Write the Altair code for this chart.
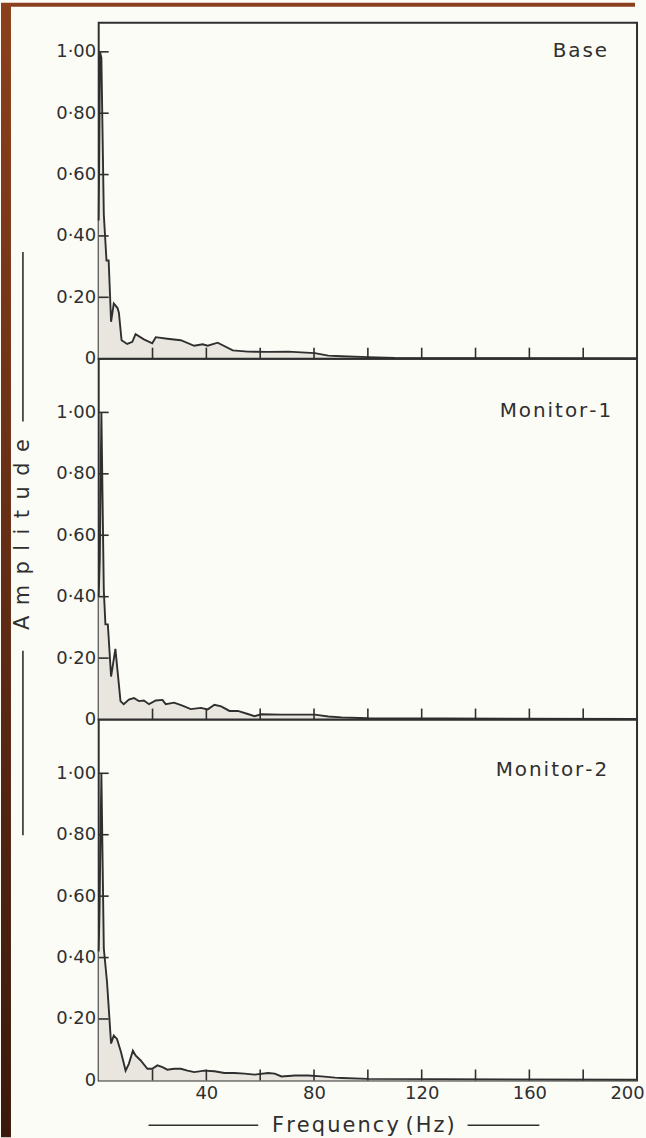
import altair as alt
import pandas as pd

# ---------------- data ----------------
panel_names = ["B\u200aa\u200as\u200ae",
               "M\u200ao\u200an\u200ai\u200at\u200ao\u200ar\u200a-\u200a1",
               "M\u200ao\u200an\u200ai\u200at\u200ao\u200ar\u200a-\u200a2"]

base_freq = [0, 0.5, 1.0, 1.9, 2.9, 3.7, 4.6, 5.6, 7.0, 7.5, 8.5, 10.6, 12.5, 13.7, 16.8,
             19.9, 21.2, 25.5, 30.5, 35.5, 38.6, 40.5, 44.2, 49.8, 55.4, 62.9, 70.4, 80.3,
             85.3, 90.3, 100, 110, 200]
base_amp = [0.45, 1.0, 0.98, 0.47, 0.32, 0.32, 0.12, 0.18, 0.165, 0.15, 0.06, 0.048, 0.055,
            0.08, 0.063, 0.05, 0.07, 0.065, 0.06, 0.042, 0.047, 0.042, 0.052, 0.027, 0.023,
            0.022, 0.023, 0.018, 0.01, 0.008, 0.005, 0.002, 0.001]

mon1_freq = [0, 0.4, 1.0, 1.9, 2.5, 3.4, 4.6, 6.2, 8.1, 9.3, 11.2, 13.1, 14.9, 16.8, 18.7,
             21.2, 23.7, 24.9, 28.0, 31.1, 34.2, 38.0, 40.5, 43.0, 45.5, 48.6, 51.7, 55.4,
             57.9, 60.4, 67.9, 80.3, 85.3, 90.3, 100, 200]
mon1_amp = [0.40, 0.52, 1.0, 0.42, 0.31, 0.31, 0.14, 0.23, 0.06, 0.05, 0.065, 0.07, 0.06,
            0.062, 0.05, 0.062, 0.064, 0.05, 0.055, 0.045, 0.034, 0.038, 0.033, 0.048, 0.043,
            0.028, 0.028, 0.018, 0.011, 0.017, 0.016, 0.016, 0.01, 0.007, 0.004, 0.002]

mon2_freq = [0, 0.3, 1.0, 1.9, 3.1, 4.6, 5.6, 6.8, 8.3, 10.0, 11.2, 12.7, 13.7, 15.6, 18.1,
             19.9, 21.8, 23.7, 25.5, 28.0, 30.5, 33.0, 35.5, 39.2, 43.0, 46.7, 50.4, 54.2,
             57.9, 62.9, 65.4, 67.9, 72.9, 77.8, 82.8, 87.8, 90.3, 100, 200]
mon2_amp = [0.42, 0.55, 1.0, 0.43, 0.32, 0.12, 0.146, 0.135, 0.092, 0.032, 0.054, 0.097,
            0.081, 0.065, 0.038, 0.038, 0.049, 0.043, 0.035, 0.038, 0.038, 0.032, 0.027,
            0.032, 0.03, 0.024, 0.024, 0.022, 0.019, 0.024, 0.022, 0.013, 0.016, 0.016,
            0.013, 0.009, 0.008, 0.005, 0.002]

x_tick_values = [20, 40, 60, 80, 100, 120, 140, 160, 180]
x_label_values = [40, 80, 120, 160, 200]
y_tick_values = [0.2, 0.4, 0.6, 0.8, 1.0]
y_label_values = [0, 0.2, 0.4, 0.6, 0.8, 1.0]

# ---------------- style ----------------
FONT = "DejaVu Sans"
INK = "#2f2f2f"
FILL = "#e8e6de"
BG = "#fcfcf7"
W = 540
heights = [337, 362, 362]
y_max = [1.095, 1.175, 1.175]
label_y = [28, 53, 51]
label_x = [510, 514, 510]

YLABEL = "datum.value == 0 ? '0' : replace(format(datum.value, '.2f'), '.', '\u00b7')"
one = alt.Data(values=[{"k": 1}])

HS = "\u200a"
x_title = HS.join(list("Frequency")) + " " + HS.join(list("(Hz)"))
y_title = "\u2002".join(list("Amplitude"))


def panel(i, freq, amp):
    H = heights[i]
    df = pd.DataFrame({"f": freq, "a": amp})
    xs = alt.Scale(domain=[0, 200], nice=False, zero=False)
    ys = alt.Scale(domain=[0, y_max[i]], nice=False)
    bottom = i == 2
    middle = i == 1

    if bottom:
        xaxis = alt.Axis(values=x_label_values, ticks=False, domain=False, grid=False,
                         labelPadding=4, labelFlush=False, labelFontSize=18, labelFont=FONT,
                         labelColor=INK, labelOverlap=False,
                         labelOffset={"condition": {"test": "datum.value == 200", "value": -10},
                                      "value": 0},
                         title=x_title,
                         titleFont=FONT, titleFontSize=21, titleFontWeight="normal",
                         titleColor=INK, titleX=265, titleY=45, titleBaseline="middle",
                         titleAlign="center")
    else:
        xaxis = None

    yaxis_kw = dict(values=y_label_values, ticks=False, domain=False, grid=False,
                    labelExpr=YLABEL, labelPadding=3, labelFlush=False, labelFontSize=18,
                    labelFont=FONT, labelColor=INK, labelOverlap=False)
    if middle:
        yaxis = alt.Axis(title=y_title,
                         titleFont=FONT, titleFontSize=21, titleFontWeight="normal",
                         titleColor=INK, titleAngle=270, titleX=-76, titleY=176,
                         titleBaseline="middle", titleAlign="center", **yaxis_kw)
    else:
        yaxis = alt.Axis(title=None, **yaxis_kw)

    base = alt.Chart(df)
    area = base.mark_area(color=FILL, interpolate="linear").encode(
        x=alt.X("f:Q", scale=xs, axis=xaxis),
        y=alt.Y("a:Q", scale=ys, axis=yaxis),
    )
    line = base.mark_line(color=INK, strokeWidth=1.9, interpolate="linear").encode(
        x=alt.X("f:Q", scale=xs, axis=xaxis),
        y=alt.Y("a:Q", scale=ys, axis=yaxis),
    )
    xt = alt.Chart(pd.DataFrame({"f": x_tick_values})).mark_rule(
        color=INK, strokeWidth=1.6).encode(
        x=alt.X("f:Q", scale=xs, axis=xaxis),
        y=alt.value(H), y2=alt.value(H - 11))
    yt = alt.Chart(pd.DataFrame({"a": y_tick_values})).mark_rule(
        color=INK, strokeWidth=1.6).encode(
        y=alt.Y("a:Q", scale=ys, axis=yaxis),
        x=alt.value(0), x2=alt.value(10))
    lab = alt.Chart(alt.Data(values=[{"name": panel_names[i]}])).mark_text(
        font=FONT, fontSize=20, color=INK, align="right", baseline="middle").encode(
        text="name:N", x=alt.value(label_x[i]), y=alt.value(label_y[i]))

    layers = [area, xt, yt, line, lab]

    if i == 0:
        grad = alt.LinearGradient(gradient="linear",
                                  stops=[alt.GradientStop(color="#8c401d", offset=0),
                                         alt.GradientStop(color="#3a190c", offset=1)],
                                  x1=0, x2=0, y1=0, y2=1)
        strip = alt.Chart(one).mark_rect(color=grad).encode(
            x=alt.value(-98), x2=alt.value(-88), y=alt.value(-20), y2=alt.value(1118))
        top = alt.Chart(one).mark_rect(color="#8a3f1d").encode(
            x=alt.value(-88), x2=alt.value(538), y=alt.value(-20), y2=alt.value(-16))
        layers = [strip, top] + layers
    if middle:
        l1 = alt.Chart(one).mark_rule(color=INK, strokeWidth=1.6).encode(
            x=alt.value(-76), y=alt.value(-107), y2=alt.value(63))
        l2 = alt.Chart(one).mark_rule(color=INK, strokeWidth=1.6).encode(
            x=alt.value(-76), y=alt.value(293), y2=alt.value(478))
        layers += [l1, l2]
    if bottom:
        l1 = alt.Chart(one).mark_rule(color=INK, strokeWidth=1.6).encode(
            x=alt.value(50), x2=alt.value(160), y=alt.value(407))
        l2 = alt.Chart(one).mark_rule(color=INK, strokeWidth=1.6).encode(
            x=alt.value(370), x2=alt.value(442), y=alt.value(407))
        layers += [l1, l2]

    return alt.layer(*layers).properties(width=W, height=H)


chart = alt.vconcat(
    panel(0, base_freq, base_amp),
    panel(1, mon1_freq, mon1_amp),
    panel(2, mon2_freq, mon2_amp),
    spacing=0,
    bounds="flush",
).properties(
    padding=0,
    background=BG,
).configure_view(
    stroke=INK, strokeWidth=2
)

chart.save("out.html", embed_options={"renderer": "svg", "actions": False})
